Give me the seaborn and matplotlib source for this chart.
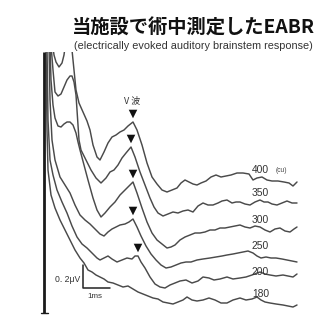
import matplotlib
matplotlib.use("Agg")
import matplotlib.pyplot as plt
import seaborn as sns
import pandas as pd

levels = ["400", "350", "300", "250", "200", "180"]

x_400 = [52, 54, 56, 59, 62, 64, 66, 70, 72, 74, 76, 79, 83, 87, 90, 93, 97, 100, 104, 108, 112, 116, 120, 124, 128, 133,
         137, 142, 147, 152, 157, 162, 167, 172, 177, 181, 185, 189, 193, 197, 201, 206, 211, 216, 221, 226, 231, 237,
         243, 249, 253, 257, 262, 267, 272, 278, 284, 289, 293, 297]
y_400 = [40, 55, 62, 67, 63, 55, 40, 40, 50, 70, 90, 103, 112, 121, 130, 145, 157, 160, 152, 143, 137, 135, 132, 130, 126, 122,
         130, 145, 163, 177, 184, 190, 192, 190, 188, 183, 180, 182, 184, 185, 183, 181, 177, 175, 177, 176, 175, 173,
         173, 174, 180, 178, 177, 180, 181, 181, 182, 183, 186, 182]

x_350 = [51, 53, 55, 58, 61, 64, 67, 70, 72, 74, 76, 77, 78, 79, 81, 86, 91, 96, 101, 106, 110, 114, 118, 122, 126, 131,
         135, 140, 145, 150, 154, 158, 163, 168, 173, 178, 183, 188, 193, 198, 203, 208, 213, 218, 222, 227, 232, 236,
         240, 245, 250, 255, 260, 264, 268, 272, 277, 282, 287, 292, 297]
y_350 = [45, 70, 92, 96, 94, 87, 80, 76, 76, 82, 95, 110, 125, 140, 150, 160, 170, 178, 183, 178, 172, 170, 165, 158, 153, 147,
         157, 172, 185, 198, 207, 213, 216, 214, 212, 213, 211, 210, 212, 206, 203, 205, 205, 203, 201, 200, 203, 202,
         202, 204, 205, 202, 200, 202, 202, 204, 205, 203, 201, 203, 203]

x_300 = [50, 51, 53, 55, 58, 61, 64, 67, 70, 73, 76, 78, 80, 84, 88, 93, 97, 101, 105, 110, 115, 120, 125, 129, 133,
         137, 142, 147, 152, 157, 162, 167, 171, 175, 180, 185, 190, 195, 200, 205, 210, 215, 220, 225, 230, 235, 240,
         245, 250, 255, 260, 265, 270, 275, 280, 285, 290, 294, 297]
y_300 = [45, 80, 105, 118, 126, 127, 124, 122, 122, 125, 133, 142, 150, 165, 180, 198, 210, 217, 213, 207, 202, 195, 190, 186, 182,
         193, 208, 222, 233, 240, 244, 248, 247, 245, 240, 237, 235, 233, 233, 232, 230, 230, 228, 228, 227, 226, 225,
         227, 228, 226, 227, 230, 232, 229, 228, 231, 232, 229, 227]

x_250 = [49, 50, 52, 55, 60, 65, 70, 75, 80, 85, 90, 95, 100, 104, 108, 112, 116, 120, 125, 129, 133,
         137, 141, 146, 151, 156, 161, 166, 171, 176, 181, 186, 191, 197, 203, 210, 216, 222, 227, 233, 238, 243, 248,
         253, 257, 261, 266, 271, 276, 282, 287, 292, 297]
y_250 = [45, 100, 140, 160, 177, 185, 193, 205, 215, 220, 224, 229, 234, 236, 232, 229, 227, 225, 224, 222, 219,
         227, 236, 246, 254, 260, 265, 268, 267, 265, 263, 262, 262, 260, 259, 258, 257, 256, 255, 254, 253, 252, 251,
         253, 256, 258, 257, 258, 258, 259, 260, 261, 262]

x_200 = [47, 48, 50, 53, 57, 62, 67, 72, 77, 82, 87, 92, 97, 100, 104, 108, 112, 117, 122, 127, 132, 135, 138,
         141, 145, 150, 155, 160, 165, 170, 175, 180, 186, 192, 198, 203, 209, 214, 220, 227, 233, 240, 246, 252, 257,
         260, 265, 270, 276, 283, 288, 293, 297]
y_200 = [45, 120, 160, 175, 190, 202, 213, 226, 237, 244, 248, 253, 258, 260, 258, 256, 259, 262, 260, 258, 259, 256, 256,
         262, 268, 277, 284, 287, 288, 285, 283, 281, 280, 283, 281, 277, 278, 280, 279, 277, 279, 278, 277, 275, 273,
         272, 274, 275, 276, 275, 276, 277, 274]

x_180 = [46, 47, 48, 51, 55, 60, 65, 70, 75, 80, 84, 88, 92, 96, 100, 104, 108, 113, 118, 123, 128, 133, 138, 143,
         148, 153, 158, 163, 168, 173, 178, 183, 187, 192, 197, 203, 209, 215, 221, 227, 233, 240, 246, 252, 257, 261,
         265, 270, 276, 283, 288, 293, 297]
y_180 = [45, 130, 170, 195, 208, 220, 230, 240, 250, 258, 263, 270, 272, 275, 277, 279, 282, 283, 285, 287, 286, 289, 292, 294,
         296, 298, 299, 302, 303, 304, 302, 300, 297, 300, 301, 300, 298, 300, 303, 303, 300, 298, 300, 299, 297, 300,
         302, 303, 304, 305, 306, 307, 305]

# wave V peaks (marked by arrowheads) for levels 400..200
peak_x = [133, 131, 133, 133, 138]
peak_y = [122, 147, 182, 219, 256]

# level labels at the right end of each trace
label_x = [252, 252, 252, 252, 252, 252]
label_y = [170, 193, 220, 246, 272, 294]

xs = {"400": x_400, "350": x_350, "300": x_300, "250": x_250, "200": x_200, "180": x_180}
ys = {"400": y_400, "350": y_350, "300": y_300, "250": y_250, "200": y_200, "180": y_180}

rows = []
for lv in levels:
    for i, (a, b) in enumerate(zip(xs[lv], ys[lv])):
        rows.append({"level": lv, "order": i, "x": a, "y": b})
df = pd.DataFrame(rows)
peaks = pd.DataFrame({"x": peak_x, "y": [p - 8 for p in peak_y]})

sns.set_theme(style="white")
plt.rcParams['font.family'] = ['Liberation Sans', 'Noto Sans CJK JP', 'DejaVu Sans']

W, H = 333, 323
fig = plt.figure(figsize=(W / 100, H / 100), dpi=100)
fig.patch.set_facecolor("white")

top_clip = 52
ax = fig.add_axes([0, 0, 1, (H - top_clip) / H])
ax.set_xlim(0, W)
ax.set_ylim(H, top_clip)
ax.axis("off")

trace_color = "#4a4a4a"
sns.lineplot(data=df, x="x", y="y", units="level", estimator=None, sort=False,
             color=trace_color, linewidth=1.05, ax=ax, legend=False)

# stimulus artifact line
ax.plot([44, 44], [top_clip, 313], color="#1a1a1a", linewidth=2.0, solid_capstyle="butt")
ax.plot([41, 48], [313, 313], color="#1a1a1a", linewidth=1.0)

# arrowheads above wave V
sns.scatterplot(data=peaks, x="x", y="y", marker="v", s=38, color="#111111",
                edgecolor="none", ax=ax, legend=False)
ax.text(132, 101, "V 波", ha="center", va="center", fontsize=6.5, color="#333333",
        family=['Noto Sans CJK JP', 'DejaVu Sans'])

# level labels
for lv, lx, ly in zip(levels, label_x, label_y):
    ax.text(lx, ly, lv, ha="left", va="center", fontsize=7.4, color="#333333")
ax.text(276, 170, "(cu)", ha="left", va="center", fontsize=4.8, color="#444444")

# scale bar
ax.plot([83, 83, 110], [265, 288, 288], color="#222222", linewidth=1.1)
ax.text(80, 280, "0. 2μV", ha="right", va="center", fontsize=6.2, color="#333333")
ax.text(95, 297, "1ms", ha="center", va="center", fontsize=5.8, color="#333333")

# titles
fig.text(193 / W, 1 - 28.5 / H, "当施設で術中測定したEABR", ha="center", va="center",
         fontsize=13.9, fontweight="bold", color="#111111",
         family=['Noto Sans CJK JP', 'DejaVu Sans'])
fig.text(193 / W, 1 - 46 / H, "(electrically evoked auditory brainstem response)",
         ha="center", va="center", fontsize=7.8, color="#333333")

fig.savefig("out.png", dpi=100, facecolor="white")
